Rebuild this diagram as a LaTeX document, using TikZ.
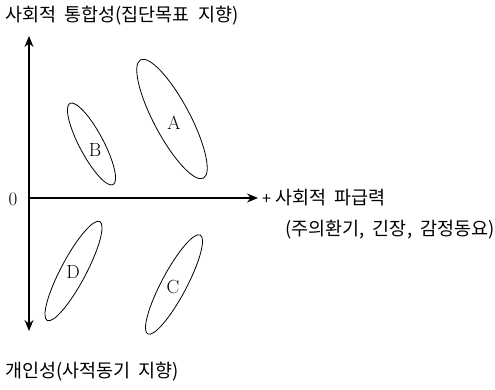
\documentclass[tikz,border=0pt]{standalone}
\usepackage{fontspec}
\newfontfamily\kr{Noto Sans CJK KR}
\usetikzlibrary{arrows.meta}
\begin{document}
\begin{tikzpicture}[x=1pt,y=1pt,
  axis/.style={line width=1.4pt,-{Stealth[length=11pt,width=9pt]}},
  oval/.style={line width=0.8pt},
  lbl/.style={font=\fontsize{19}{22}\selectfont},
  krtext/.style={font=\kr\fontsize{18.5}{22}\selectfont, inner sep=0pt, anchor=west}]
\useasboundingbox (0,0) rectangle (495,390);
% axes
\coordinate (O) at (29,192);
\coordinate (top) at (29,354);
\coordinate (bot) at (29,59);
\coordinate (right) at (258,192);
\draw[axis] (O) -- (top);
\draw[axis] (O) -- (bot);
\draw[axis] (O) -- (right);
\node[lbl] (zero) at (13,191) {0};
% ellipses
\draw[oval] (172,271) ellipse [x radius=67, y radius=18, rotate=118];
\node[lbl] (A) at (174,267) {A};
\draw[oval] (91.5,246) ellipse [x radius=46, y radius=12, rotate=118];
\node[lbl] (B) at (95,240) {B};
\draw[oval] (73.5,119) ellipse [x radius=56, y radius=12.5, rotate=62];
\node[lbl] (D) at (73,118) {D};
\draw[oval] (174,105.5) ellipse [x radius=56, y radius=12.5, rotate=62];
\node[lbl] (C) at (173,103) {C};
% texts
\node[krtext] (t1) at (5,374) {사회적\ \ 통합성(집단목표\ \ 지향)};
\node[krtext] (t2) at (5,18) {개인성(사적동기\ \ 지향)};
\node[krtext] (t3) at (262,192) {{\fontsize{16}{16}\selectfont +}\ 사회적\ \ 파급력};
\node[krtext] (t4) at (285,160) {(주의환기,\ \ 긴장,\ \ 감정동요)};
\end{tikzpicture}
\end{document}
